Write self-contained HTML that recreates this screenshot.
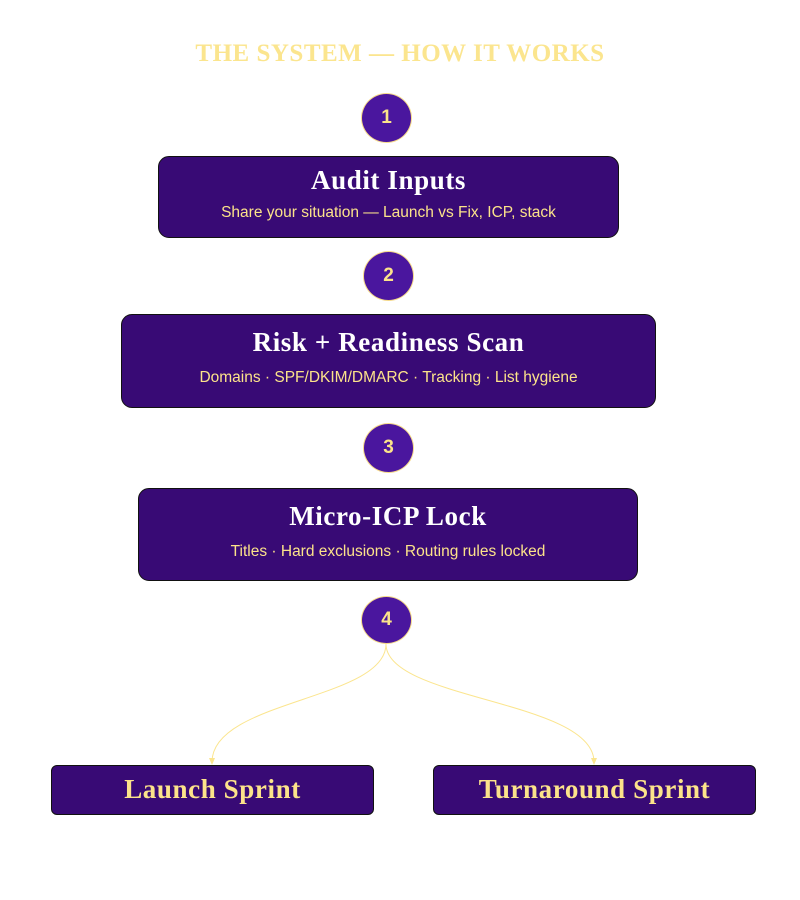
<!DOCTYPE html>
<html><head><meta charset="utf-8"><style>
body{margin:0;width:800px;height:900px;background:#fff;position:relative;overflow:hidden}
.t{position:absolute;left:0;width:800px;text-align:center;top:40px;font:bold 25px "Liberation Serif",serif;color:#fbe58e;letter-spacing:0.5px}
.c{position:absolute;box-sizing:border-box;border:1.5px solid #f5d98a;background:#4a169e;border-radius:50%;color:#fce38a;font:bold 19px "Liberation Sans",sans-serif;display:flex;align-items:center;justify-content:center}
.b{position:absolute;box-sizing:border-box;background:#380a75;border:1.5px solid #111;border-radius:11px;text-align:center}
.h{font:bold 27px "Liberation Serif",serif;color:#fff;letter-spacing:0.6px;line-height:32px}
.s{font:15.5px "Liberation Sans",sans-serif;color:#fce38a}
.y{font:bold 27px "Liberation Serif",serif;color:#fce38a;line-height:47px;letter-spacing:0.6px}
</style></head><body>
<div class="t">THE SYSTEM — HOW IT WORKS</div>
<div class="c" style="left:361px;top:93px;width:51px;height:50px">1</div>
<div class="b" style="left:158px;top:156px;width:461px;height:82px"><div class="h" style="margin-top:7px">Audit Inputs</div><div class="s" style="margin-top:8px">Share your situation — Launch vs Fix, ICP, stack</div></div>
<div class="c" style="left:363px;top:251px;width:51px;height:50px">2</div>
<div class="b" style="left:121px;top:314px;width:535px;height:94px"><div class="h" style="margin-top:11px">Risk + Readiness Scan</div><div class="s" style="margin-top:11px">Domains · SPF/DKIM/DMARC · Tracking · List hygiene</div></div>
<div class="c" style="left:363px;top:423px;width:51px;height:50px">3</div>
<div class="b" style="left:138px;top:488px;width:500px;height:93px"><div class="h" style="margin-top:11px">Micro-ICP Lock</div><div class="s" style="margin-top:11px">Titles · Hard exclusions · Routing rules locked</div></div>
<div class="c" style="left:361px;top:596px;width:51px;height:48px">4</div>
<svg style="position:absolute;left:0;top:0" width="800" height="900">
<path d="M386 644 C386 700,212 700,212 762" fill="none" stroke="#fbe58e" stroke-width="1"/>
<path d="M386 644 C386 700,594 700,594 762" fill="none" stroke="#fbe58e" stroke-width="1"/>
<path d="M209 758 L212 765 L215 758Z" fill="#fbe58e"/>
<path d="M591 758 L594 765 L597 758Z" fill="#fbe58e"/>
</svg>
<div class="b" style="left:51px;top:765px;width:323px;height:50px;border-radius:6px"><div class="y">Launch Sprint</div></div>
<div class="b" style="left:433px;top:765px;width:323px;height:50px;border-radius:6px"><div class="y">Turnaround Sprint</div></div>
</body></html>
